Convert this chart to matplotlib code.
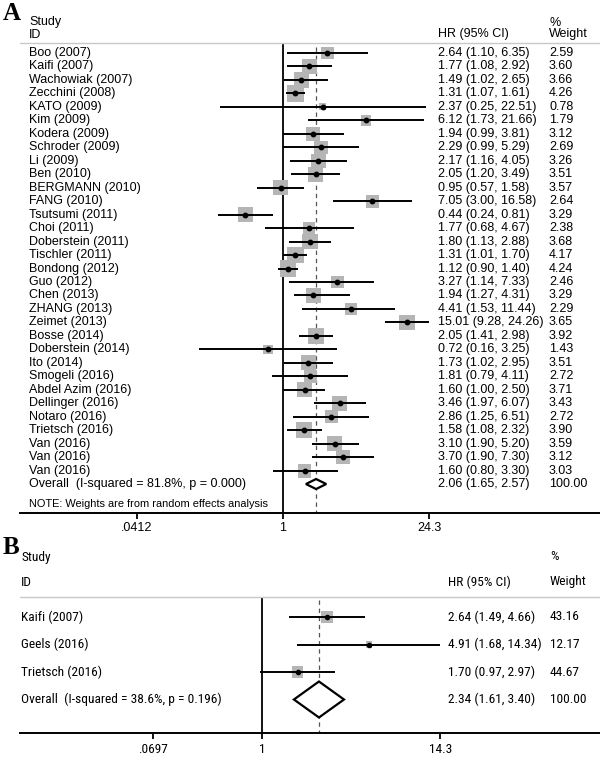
import numpy as np
import matplotlib.pyplot as plt
from matplotlib.patches import Polygon
from matplotlib.transforms import blended_transform_factory

plt.rcParams['font.family'] = ['Liberation Sans', 'DejaVu Sans']

# ---- panel A data ----
studies_a = ['Boo (2007)', 'Kaifi (2007)', 'Wachowiak (2007)', 'Zecchini (2008)',
             'KATO (2009)', 'Kim (2009)', 'Kodera (2009)', 'Schroder (2009)',
             'Li (2009)', 'Ben (2010)', 'BERGMANN (2010)', 'FANG (2010)',
             'Tsutsumi (2011)', 'Choi (2011)', 'Doberstein (2011)', 'Tischler (2011)',
             'Bondong (2012)', 'Guo (2012)', 'Chen (2013)', 'ZHANG (2013)',
             'Zeimet (2013)', 'Bosse (2014)', 'Doberstein (2014)', 'Ito (2014)',
             'Smogeli (2016)', 'Abdel Azim (2016)', 'Dellinger (2016)', 'Notaro (2016)',
             'Trietsch (2016)', 'Van (2016)', 'Van (2016)', 'Van (2016)']
hr_a = [2.64, 1.77, 1.49, 1.31, 2.37, 6.12, 1.94, 2.29, 2.17, 2.05, 0.95, 7.05,
        0.44, 1.77, 1.80, 1.31, 1.12, 3.27, 1.94, 4.41, 15.01, 2.05, 0.72, 1.73,
        1.81, 1.60, 3.46, 2.86, 1.58, 3.10, 3.70, 1.60]
lo_a = [1.10, 1.08, 1.02, 1.07, 0.25, 1.73, 0.99, 0.99, 1.16, 1.20, 0.57, 3.00,
        0.24, 0.68, 1.13, 1.01, 0.90, 1.14, 1.27, 1.53, 9.28, 1.41, 0.16, 1.02,
        0.79, 1.00, 1.97, 1.25, 1.08, 1.90, 1.90, 0.80]
hi_a = [6.35, 2.92, 2.65, 1.61, 22.51, 21.66, 3.81, 5.29, 4.05, 3.49, 1.58, 16.58,
        0.81, 4.67, 2.88, 1.70, 1.40, 7.33, 4.31, 11.44, 24.26, 2.98, 3.25, 2.95,
        4.11, 2.50, 6.07, 6.51, 2.32, 5.20, 7.30, 3.30]
wt_a = [2.59, 3.60, 3.66, 4.26, 0.78, 1.79, 3.12, 2.69, 3.26, 3.51, 3.57, 2.64,
        3.29, 2.38, 3.68, 4.17, 4.24, 2.46, 3.29, 2.29, 3.65, 3.92, 1.43, 3.51,
        2.72, 3.71, 3.43, 2.72, 3.90, 3.59, 3.12, 3.03]
overall_a = [2.06, 1.65, 2.57]
overall_label_a = 'Overall  (I-squared = 81.8%, p = 0.000)'
ticks_a = [0.0412, 1, 24.3]
ticklabels_a = ['.0412', '1', '24.3']

# ---- panel B data ----
studies_b = ['Kaifi (2007)', 'Geels (2016)', 'Trietsch (2016)']
hr_b = [2.64, 4.91, 1.70]
lo_b = [1.49, 1.68, 0.97]
hi_b = [4.66, 14.34, 2.97]
wt_b = [43.16, 12.17, 44.67]
overall_b = [2.34, 1.61, 3.40]
overall_label_b = 'Overall  (I-squared = 38.6%, p = 0.196)'
ticklabels_b = ['.0697', '1', '14.3']

W, H = 600, 760
fig = plt.figure(figsize=(W / 100, H / 100), dpi=100)


def forest(g, studies, hr, lo, hi, wt, overall, overall_label, ticks, ticklabels, font):
    # g holds the pixel layout of one panel
    step, row0 = g['step'], g['row0']
    row = lambda px: (px - row0) / step
    ax = fig.add_axes([20 / W, 1 - g['bottom'] / H, 580 / W, (g['bottom'] - g['top']) / H])
    ax.patch.set_visible(False)
    ax.set_xscale('log')
    ax.set_xlim(np.exp((20 - g['one']) / g['unit']), np.exp((600 - g['one']) / g['unit']))
    ax.set_ylim(row(g['bottom']), row(g['top']))
    tr = blended_transform_factory(fig.transFigure, ax.transData)

    n = len(studies)
    rows = np.arange(n)
    side = g['box'] * np.sqrt(np.array(wt)) * 0.72
    ax.scatter(hr, rows, s=side ** 2, marker='s', color='#b5b5b5', linewidths=0, zorder=2)
    ax.hlines(rows, lo, hi, color='black', lw=g['lw'], zorder=3)
    ax.plot(hr, rows, 'o', ms=g['dot'], color='black', zorder=4)

    est, olo, ohi = overall
    h = g['dh'] / step
    ax.add_patch(Polygon([(olo, n), (est, n - h), (ohi, n), (est, n + h)], closed=True,
                         facecolor='white', edgecolor='black', lw=1.6, zorder=4))

    ax.axhline(row(g['hline']), color='#c8c8c8', lw=1.0)
    ax.vlines(1, row(g['hline']), row(g['bottom']), color='black', lw=1.3, zorder=1)
    ax.vlines(est, row(g['dash']), row(g['bottom']), color='#555555', lw=0.9,
              linestyles=(0, (3.5, 3)), zorder=1)

    tx = lambda px: px / W
    for i, s in enumerate(studies):
        ax.text(tx(g['xlab']), i, s, transform=tr, va='center', ha='left', **font)
        ax.text(tx(g['xhr']), i, f'{hr[i]:.2f} ({lo[i]:.2f}, {hi[i]:.2f})',
                transform=tr, va='center', ha='left', **font)
        ax.text(tx(g['xwt']), i, f'{wt[i]:.2f}', transform=tr, va='center', ha='left', **font)
    ax.text(tx(g['xlab']), n, overall_label, transform=tr, va='center', ha='left', **font)
    ax.text(tx(g['xhr']), n, f'{est:.2f} ({olo:.2f}, {ohi:.2f})', transform=tr,
            va='center', ha='left', **font)
    ax.text(tx(g['xwt']), n, '100.00', transform=tr, va='center', ha='left', **font)

    ax.text(tx(g['xlab']), row(g['y_study']), 'Study', transform=tr, va='center', **font)
    ax.text(tx(g['xlab']), row(g['y_id']), 'ID', transform=tr, va='center', **font)
    ax.text(tx(g['xhr']), row(g['y_id']), 'HR (95% CI)', transform=tr, va='center', **font)
    ax.text(tx(g['xwt']), row(g['y_study']), '%', transform=tr, va='center', **font)
    ax.text(tx(g['xwt']), row(g['y_id']), 'Weight', transform=tr, va='center', **font)

    for sp in ['top', 'left', 'right']:
        ax.spines[sp].set_visible(False)
    ax.spines['bottom'].set_linewidth(1.4)
    ax.set_yticks([])
    ax.set_xticks(ticks)
    ax.set_xticklabels(ticklabels, **font)
    ax.minorticks_off()
    ax.tick_params(axis='x', direction='out', length=4.5, width=1.3, pad=2.5)
    return ax, tr, row


geo_a = dict(top=0, bottom=512.7, row0=53, step=13.47, one=283, unit=45.8,
             box=8.0, lw=1.4, dot=3.2, dh=5.0, hline=43, dash=47,
             xlab=29, xhr=438, xwt=549, y_study=22.5, y_id=34.5)
font_a = dict(family=['Liberation Sans', 'DejaVu Sans'], fontsize=9.0)
axA, trA, rowA = forest(geo_a, studies_a, hr_a, lo_a, hi_a, wt_a, overall_a,
                        overall_label_a, ticks_a, ticklabels_a, font_a)
axA.text(29 / W, rowA(504), 'NOTE: Weights are from random effects analysis',
         transform=trA, va='center', fontsize=7.9, family=font_a['family'])

geo_b = dict(top=535, bottom=733, row0=617, step=27.5, one=262, unit=67.0,
             box=1.75, lw=1.4, dot=3.0, dh=18.0, hline=597, dash=600,
             xlab=21, xhr=448, xwt=550, y_study=557, y_id=582)
# in the source figure the left tick of panel B sits at about x = 153 px
ticks_b = [np.exp((153 - geo_b['one']) / geo_b['unit']), 1, 14.3]
font_b = dict(family=['Roboto Condensed', 'Liberation Sans'], fontsize=9.6)
axB, trB, rowB = forest(geo_b, studies_b, hr_b, lo_b, hi_b, wt_b, overall_b,
                        overall_label_b, ticks_b, ticklabels_b, font_b)

fig.text(3 / W, 1 - 13 / H, 'A', family='Liberation Serif', fontweight='bold',
         fontsize=18, va='center', ha='left')
fig.text(3 / W, 1 - 547 / H, 'B', family='Liberation Serif', fontweight='bold',
         fontsize=18, va='center', ha='left')

fig.savefig('out.png', dpi=100, facecolor='white')
